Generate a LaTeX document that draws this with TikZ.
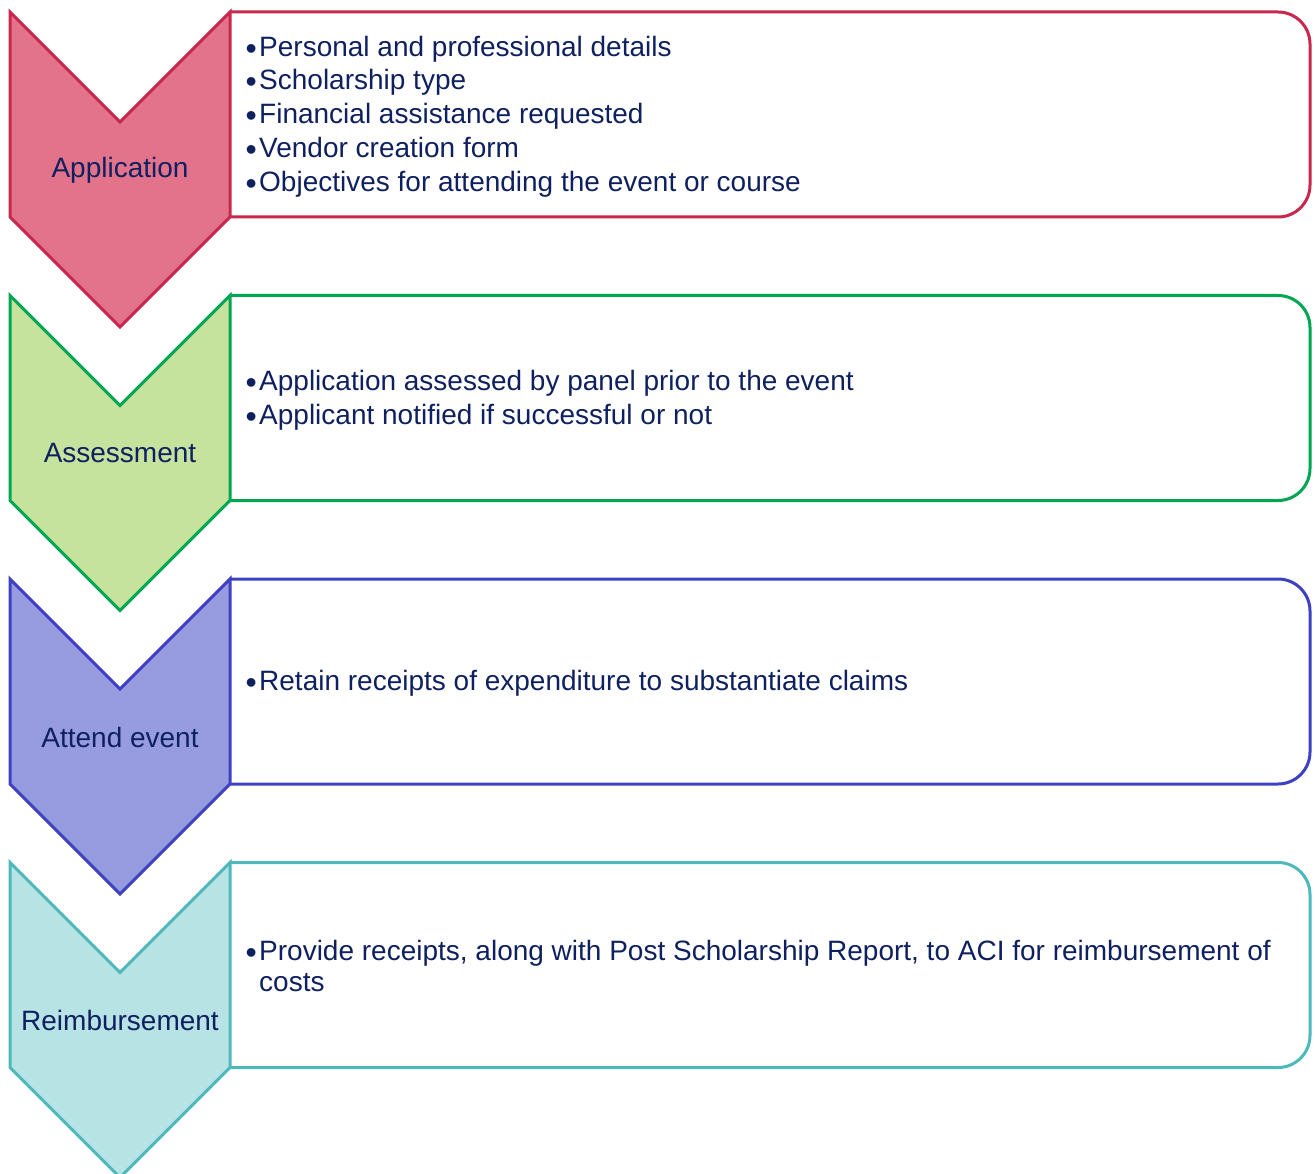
\documentclass[tikz,border=0pt]{standalone}
\usepackage{fontspec}
\setmainfont{Liberation Sans}
\definecolor{txt}{HTML}{0F2060}
\definecolor{appF}{HTML}{E3738A}
\definecolor{appD}{HTML}{C8284C}
\definecolor{assF}{HTML}{C5E39D}
\definecolor{assD}{HTML}{00A651}
\definecolor{attF}{HTML}{979CE0}
\definecolor{attD}{HTML}{3D41C2}
\definecolor{reiF}{HTML}{B8E3E4}
\definecolor{reiD}{HTML}{4DB9BC}
\newcommand\bul{\makebox[13.5pt][l]{\raisebox{-3pt}{\fontsize{32}{29}\selectfont •}}}
\begin{document}
\begin{tikzpicture}[x=1pt,y=-1pt,
  boxline/.style={line width=3pt, rounded corners=32pt, line join=round},
  chev/.style={line width=3pt, line join=miter},
  lbl/.style={font=\fontsize{28}{30}\selectfont, text=txt, inner sep=0pt},
  body/.style={font=\fontsize{28}{29}\selectfont, text=txt, align=left, inner sep=0pt, anchor=west}]
\useasboundingbox (0,0) rectangle (1315,1174);
% Stage 1
\draw[boxline, draw=appD] (230,12) -- (1310,12) -- (1310,217) -- (230,217);
\draw[chev, fill=appF, draw=appD] (10,12) -- (120,122) -- (230,12) -- (230,217) -- (120,327) -- (10,217) -- cycle;
\node[lbl] (l1) at (120,170.5) {Application};
\node[body] (t1) at (245.5,116.5) {\bul Personal and professional details\\[4.75pt]
\bul Scholarship type\\[4.75pt]
\bul Financial assistance requested\\[4.75pt]
\bul Vendor creation form\\[4.75pt]
\bul Objectives for attending the event or course};
% Stage 2
\draw[boxline, draw=assD] (230,295.5) -- (1310,295.5) -- (1310,500.5) -- (230,500.5);
\draw[chev, fill=assF, draw=assD] (10,295.5) -- (120,405.5) -- (230,295.5) -- (230,500.5) -- (120,610.5) -- (10,500.5) -- cycle;
\node[lbl] (l2) at (120,453.5) {Assessment};
\node[body] (t2) at (245.5,400) {\bul Application assessed by panel prior to the event\\[4.75pt]
\bul Applicant notified if successful or not};
% Stage 3
\draw[boxline, draw=attD] (230,579) -- (1310,579) -- (1310,784) -- (230,784);
\draw[chev, fill=attF, draw=attD] (10,579) -- (120,689) -- (230,579) -- (230,784) -- (120,894) -- (10,784) -- cycle;
\node[lbl] (l3) at (120,737) {Attend event};
\node[body] (t3) at (245.5,683.5) {\bul Retain receipts of expenditure to substantiate claims};
% Stage 4
\draw[boxline, draw=reiD] (230,862.5) -- (1310,862.5) -- (1310,1067.5) -- (230,1067.5);
\draw[chev, fill=reiF, draw=reiD] (10,862.5) -- (120,972.5) -- (230,862.5) -- (230,1067.5) -- (120,1177.5) -- (10,1067.5) -- cycle;
\node[lbl] (l4) at (120,1020.5) {Reimbursement};
\node[body] (t4) at (245.5,966) {\bul Provide receipts, along with Post Scholarship Report, to ACI for reimbursement of\\[2pt]
\hspace*{13.5pt}costs};
\end{tikzpicture}
\end{document}
